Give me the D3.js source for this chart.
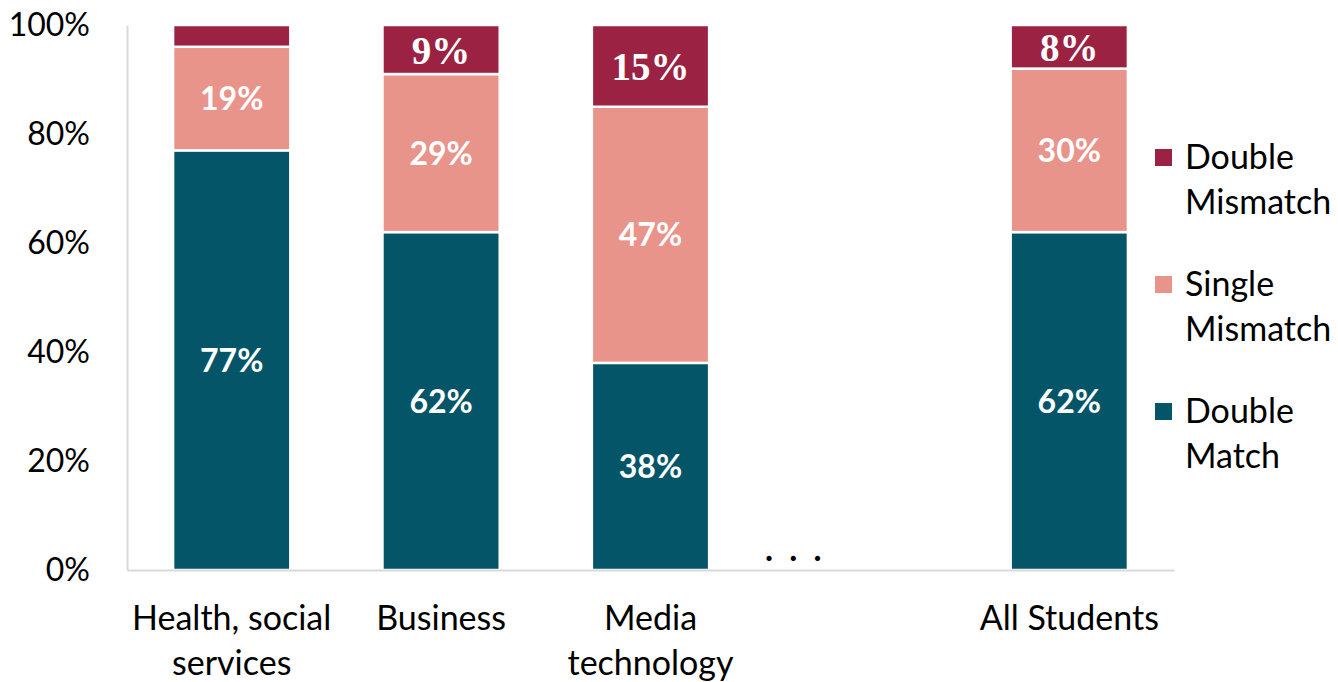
<!DOCTYPE html>
<html>
<head>
<meta charset="utf-8">
<script src="https://cdn.jsdelivr.net/npm/d3@7"></script>
<style>
  html, body { margin: 0; padding: 0; background: #fff; }
  svg { display: block; }
</style>
</head>
<body>
<svg id="chart" width="1338" height="682"></svg>
<script>
// Categories (the empty one is a gap column marked with an ellipsis)
const categories = ["Health, social services", "Business", "Media technology", "", "All Students"];
const categoryLines = [["Health, social", "services"], ["Business"], ["Media", "technology"], [], ["All Students"]];

// Shares of students (%) per category, stacked bottom to top
const doubleMatch    = [77, 62, 38, null, 62];
const singleMismatch = [19, 29, 47, null, 30];
const doubleMismatch = [4,   9, 15, null,  8];

const seriesNames  = ["Double Match", "Single Mismatch", "Double Mismatch"];
const legendLines  = [["Double", "Mismatch"], ["Single", "Mismatch"], ["Double", "Match"]];
const yTicks = [0, 20, 40, 60, 80, 100];

const colors = {
  "Double Match": "#045568",
  "Single Mismatch": "#E8948A",
  "Double Mismatch": "#9B2242"
};

const svg = d3.select("#chart");
const plotLeft = 127, plotRight = 1174, plotTop = 25, plotBottom = 570;

const x = d3.scaleBand().domain(categories).range([plotLeft, plotRight])
  .paddingInner(0.44).paddingOuter(0.22);
const y = d3.scaleLinear().domain([0, 100]).range([plotBottom, plotTop]);

const rows = categories.map((c, i) => ({
  category: c,
  "Double Match": doubleMatch[i],
  "Single Mismatch": singleMismatch[i],
  "Double Mismatch": doubleMismatch[i]
})).filter(r => r["Double Match"] != null);

const stacked = d3.stack().keys(seriesNames)(rows);

// Bars
const layers = svg.append("g").selectAll("g").data(stacked).join("g")
  .attr("fill", d => colors[d.key]);

layers.selectAll("rect").data(d => d).join("rect")
  .attr("x", d => x(d.data.category))
  .attr("width", x.bandwidth())
  .attr("y", d => y(d[1]))
  .attr("height", d => y(d[0]) - y(d[1]))
  .attr("stroke", "#fff")
  .attr("stroke-width", 2.5);

// Value labels
layers.each(function(layer) {
  const serif = layer.key === "Double Mismatch";
  d3.select(this).selectAll("text").data(layer.filter(d => d[1] - d[0] >= 5)).join("text")
    .attr("x", d => x(d.data.category) + x.bandwidth() / 2)
    .attr("y", d => (y(d[0]) + y(d[1])) / 2)
    .attr("dy", "0.36em")
    .attr("text-anchor", "middle")
    .attr("fill", "#fff")
    .attr("font-weight", "bold")
    .attr("font-family", serif ? "'Liberation Serif', serif" : "Lato, sans-serif")
    .attr("font-size", serif ? 39 : 32)
    .text(d => (d[1] - d[0]) + "%");
});

// Y axis
const yAxis = svg.append("g").attr("transform", `translate(${plotLeft},0)`)
  .call(d3.axisLeft(y).tickValues(yTicks).tickSize(0).tickPadding(37).tickFormat(d => d + "%"));
yAxis.select(".domain").attr("stroke", "#d9d9d9").attr("stroke-width", 2);
yAxis.selectAll("text")
  .attr("font-family", "Lato, sans-serif").attr("font-size", 32).attr("fill", "#000");

// X axis
const xAxis = svg.append("g").attr("transform", `translate(0,${plotBottom})`)
  .call(d3.axisBottom(x).tickSize(0).tickPadding(0));
xAxis.select(".domain").attr("stroke", "#d9d9d9").attr("stroke-width", 2);
xAxis.selectAll(".tick text").remove();
xAxis.selectAll(".tick").each(function(c) {
  const lines = categoryLines[categories.indexOf(c)];
  const t = d3.select(this).append("text")
    .attr("text-anchor", "middle")
    .attr("font-family", "Lato, sans-serif").attr("font-size", 34).attr("fill", "#000");
  lines.forEach((ln, i) => t.append("tspan").attr("x", 0).attr("y", 60 + i * 45).text(ln));
});

// Ellipsis marking omitted categories
svg.append("text")
  .attr("x", x("") - 6)
  .attr("y", 561)
  .attr("text-anchor", "middle")
  .attr("font-family", "Lato, sans-serif").attr("font-weight", "bold").attr("font-size", 34)
  .style("letter-spacing", "4px")
  .attr("fill", "#000")
  .text(". . .");

// Legend
const legendTop = [158, 285, 412];
const legend = svg.append("g").selectAll("g").data(["Double Mismatch", "Single Mismatch", "Double Match"]).join("g")
  .attr("transform", (d, i) => `translate(1155,${legendTop[i]})`);
legend.append("rect").attr("x", 0).attr("y", -9).attr("width", 17).attr("height", 17)
  .attr("fill", d => colors[d]);
legend.append("text")
  .attr("font-family", "Lato, sans-serif").attr("font-size", 34).attr("fill", "#000")
  .each(function(d, i) {
    legendLines[i].forEach((ln, j) => d3.select(this).append("tspan")
      .attr("x", 30).attr("y", 11 + j * 45).text(ln));
  });
</script>
</body>
</html>
